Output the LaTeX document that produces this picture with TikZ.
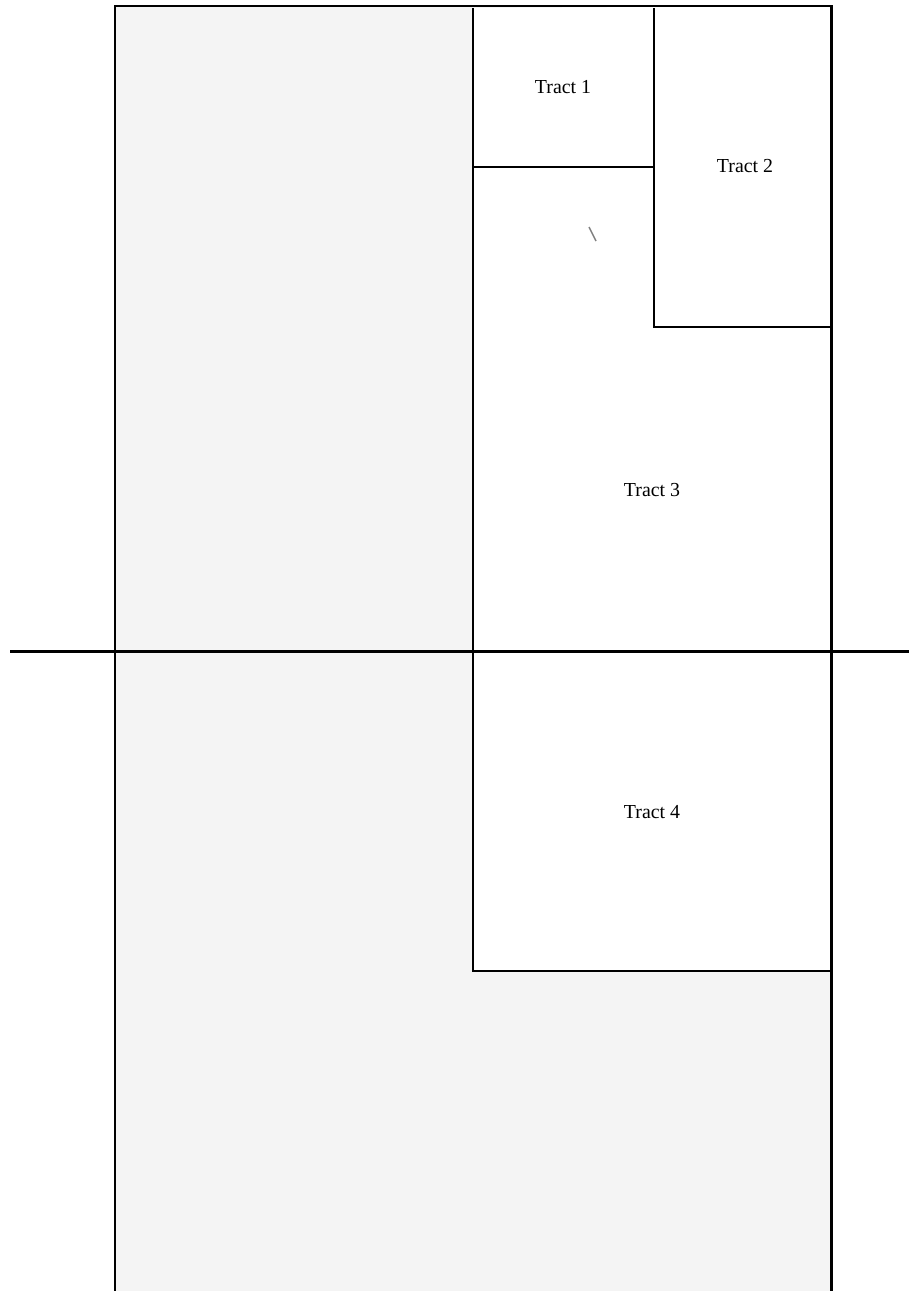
\documentclass[tikz,border=0pt]{standalone}
\usepackage{fontspec}
\setmainfont{Liberation Serif}
\usetikzlibrary{positioning}
\tikzset{
  tract/.style={font=\fontsize{11.3}{13}\selectfont, inner sep=0pt},
  parcel/.style={line width=1.7pt},
  split/.style={line width=1.1pt}
}

\begin{document}
\begin{tikzpicture}[x=0.02cm,y=-0.02cm]
  \clip (0,0) rectangle (909,1291);
  \fill[white] (0,0) rectangle (909,1291);
  \coordinate (a1) at (115,6);
  \coordinate (a2) at (831,6);
  \coordinate (a3) at (831,1300);
  \coordinate (a4) at (115,1300);
  \coordinate (m1) at (473,8);
  \coordinate (m2) at (654,8);
  \coordinate (m3) at (473,167);
  \coordinate (m4) at (654,167);
  \coordinate (m5) at (654,327);
  \coordinate (m6) at (831,327);
  \coordinate (m7) at (473,971);
  \coordinate (m8) at (831,971);
  \coordinate (w) at (10,651);
  \coordinate (e) at (909,651);
  \fill[gray!9] (a1)--(a2)--(a3)--(a4)--cycle;
  \fill[white] (m1)--(a2)--(m8)--(m7)--cycle;
  \draw[split] (m1)--(m7)--(m8);
  \draw[split] (m3)--(m4);
  \draw[split] (m2)--(m5)--(m6);
  \draw[parcel] (a4)--(a1)--(a2)--(a3);
  \draw[parcel] (w)--(e);
  \draw[gray, line width=0.8pt] (589,227)--(596,241);
  \node[tract] (t1) at (563,87) {Tract 1};
  \node[tract] (t2) at (745,166) {Tract 2};
  \node[tract] (t3) at (652,490) {Tract 3};
  \node[tract] (t4) at (652,812) {Tract 4};
\end{tikzpicture}
\end{document}
